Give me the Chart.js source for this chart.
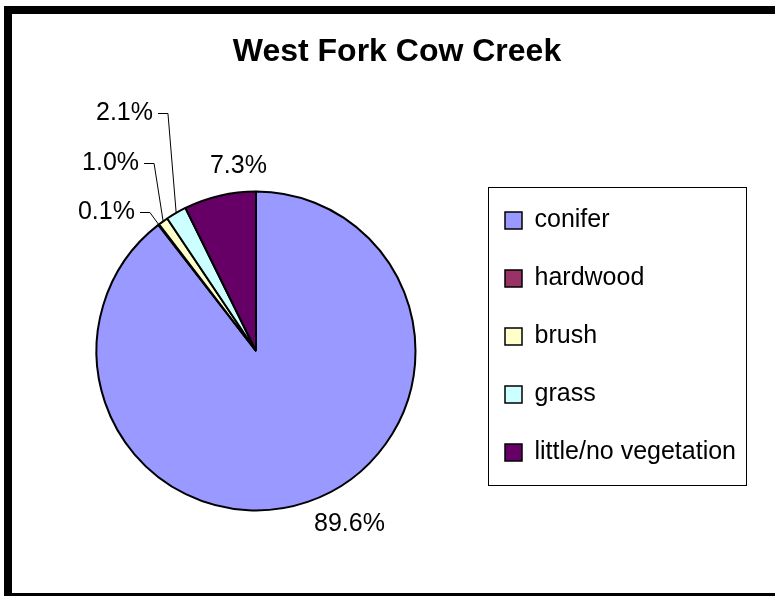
<!DOCTYPE html>
<html><head><meta charset="utf-8">
<script src="https://cdn.jsdelivr.net/npm/chart.js@4.4.1/dist/chart.umd.min.js"></script>
<style>
html,body{margin:0;padding:0;background:#fff;overflow:hidden;width:775px;height:596px}
#frame{position:absolute;left:4px;top:6px;width:800px;height:579px;border:8px solid #000;background:#fff}
#wrap{position:absolute;left:0;top:0;width:763px;height:579px}
canvas{display:block}
</style></head><body>
<div id="frame"><div id="wrap"><canvas id="c" width="763" height="579" style="width:763px;height:579px"></canvas></div></div>
<script>
// ---- data ----
const chartTitle = 'West Fork Cow Creek';
const categories = ['conifer', 'hardwood', 'brush', 'grass', 'little/no vegetation'];
const percentValues = [89.6, 0.1, 1.0, 2.1, 7.3];
const sliceColors = ['#9999FF', '#993366', '#FFFFCC', '#CCFFFF', '#660066'];

// ---- style / layout ----
const FONT = "'Liberation Sans', Arial, Helvetica, sans-serif";
const LEGEND_WIDTH = 282;
// label anchor relative to pie centre, in units of the pie radius
const labelLayout = [
  {dx: 0.586, dy: 1.085, leader: false},
  {dx: -0.665, dy: -0.871, leader: true},
  {dx: -0.639, dy: -1.179, leader: true},
  {dx: -0.552, dy: -1.492, leader: true},
  {dx: -0.11, dy: -1.16, leader: false}
];

const pieLabels = {
  id: 'pieLabels',
  afterDatasetsDraw(chart) {
    const ctx = chart.ctx;
    const meta = chart.getDatasetMeta(0);
    const ds = chart.data.datasets[0];
    ctx.save();
    ctx.font = '25px ' + FONT;
    ctx.fillStyle = '#000';
    ctx.strokeStyle = '#000';
    ctx.lineWidth = 1;
    ctx.textBaseline = 'middle';
    meta.data.forEach((arc, i) => {
      const p = arc.getProps(['x', 'y', 'startAngle', 'endAngle', 'outerRadius'], true);
      const R = p.outerRadius;
      const text = ds.data[i].toFixed(1) + '%';
      const L = labelLayout[i];
      const lx = p.x + L.dx * R, ly = p.y + L.dy * R;
      if (L.leader) {
        const mid = (p.startAngle + p.endAngle) / 2;
        const ex = p.x + Math.cos(mid) * R, ey = p.y + Math.sin(mid) * R;
        ctx.beginPath();
        ctx.moveTo(ex, ey);
        ctx.lineTo(lx, Math.round(ly) + 0.5);
        ctx.lineTo(lx - 10, Math.round(ly) + 0.5);
        ctx.stroke();
        ctx.textAlign = 'right';
        ctx.fillText(text, lx - 15, ly);
      } else {
        ctx.textAlign = 'center';
        ctx.fillText(text, lx, ly);
      }
    });
    ctx.restore();
  }
};

function patchLegend(chart) {
  const lg = chart.legend;
  if (lg && !lg._patched) {
    const baseFit = lg.fit;
    lg.fit = function () { baseFit.call(this); this.width = LEGEND_WIDTH; };
    lg._patched = true;
  }
}

const legendFrame = {
  id: 'legendFrame',
  beforeInit(chart) { patchLegend(chart); },
  beforeUpdate(chart) { patchLegend(chart); },
  afterDraw(chart) {
    const lg = chart.legend;
    const boxes = lg.legendHitBoxes;
    if (!boxes || !boxes.length) return;
    const first = boxes[0], last = boxes[boxes.length - 1];
    const left = Math.round(first.left - 17) + 0.5;
    const top = Math.round(first.top - 21) + 0.5;
    const right = Math.round(lg.right - 8) + 0.5;
    const bottom = Math.round(last.top + last.height + 20) + 0.5;
    const ctx = chart.ctx;
    ctx.save();
    ctx.strokeStyle = '#000';
    ctx.lineWidth = 1;
    ctx.strokeRect(left, top, right - left, bottom - top);
    ctx.restore();
  }
};

const baseGen = (Chart.overrides.pie || Chart.overrides.doughnut).plugins.legend.labels.generateLabels;

new Chart(document.getElementById('c'), {
  type: 'pie',
  data: {
    labels: categories,
    datasets: [{
      data: percentValues,
      backgroundColor: sliceColors,
      borderColor: '#000',
      borderWidth: 2,
      radius: 159.5
    }]
  },
  options: {
    responsive: false,
    animation: false,
    devicePixelRatio: 1,
    events: [],
    layout: {padding: {left: 28, right: 21, top: 0, bottom: 66}},
    plugins: {
      title: {
        display: true,
        text: chartTitle,
        color: '#000',
        font: {family: FONT, size: 32, weight: 'bold'},
        padding: {top: 19, bottom: 103.6}
      },
      legend: {
        display: true,
        fullSize: false,
        position: 'right',
        align: 'start',
        labels: {
          color: '#000',
          font: {family: FONT, size: 25},
          boxWidth: 17,
          boxHeight: 17,
          padding: 33,
          generateLabels(chart) {
            const items = baseGen(chart);
            items.forEach(it => { it.lineWidth = 1.5; it.strokeStyle = '#000'; });
            return items;
          }
        }
      },
      tooltip: {enabled: false}
    }
  },
  plugins: [pieLabels, legendFrame]
});
</script>
</body></html>
